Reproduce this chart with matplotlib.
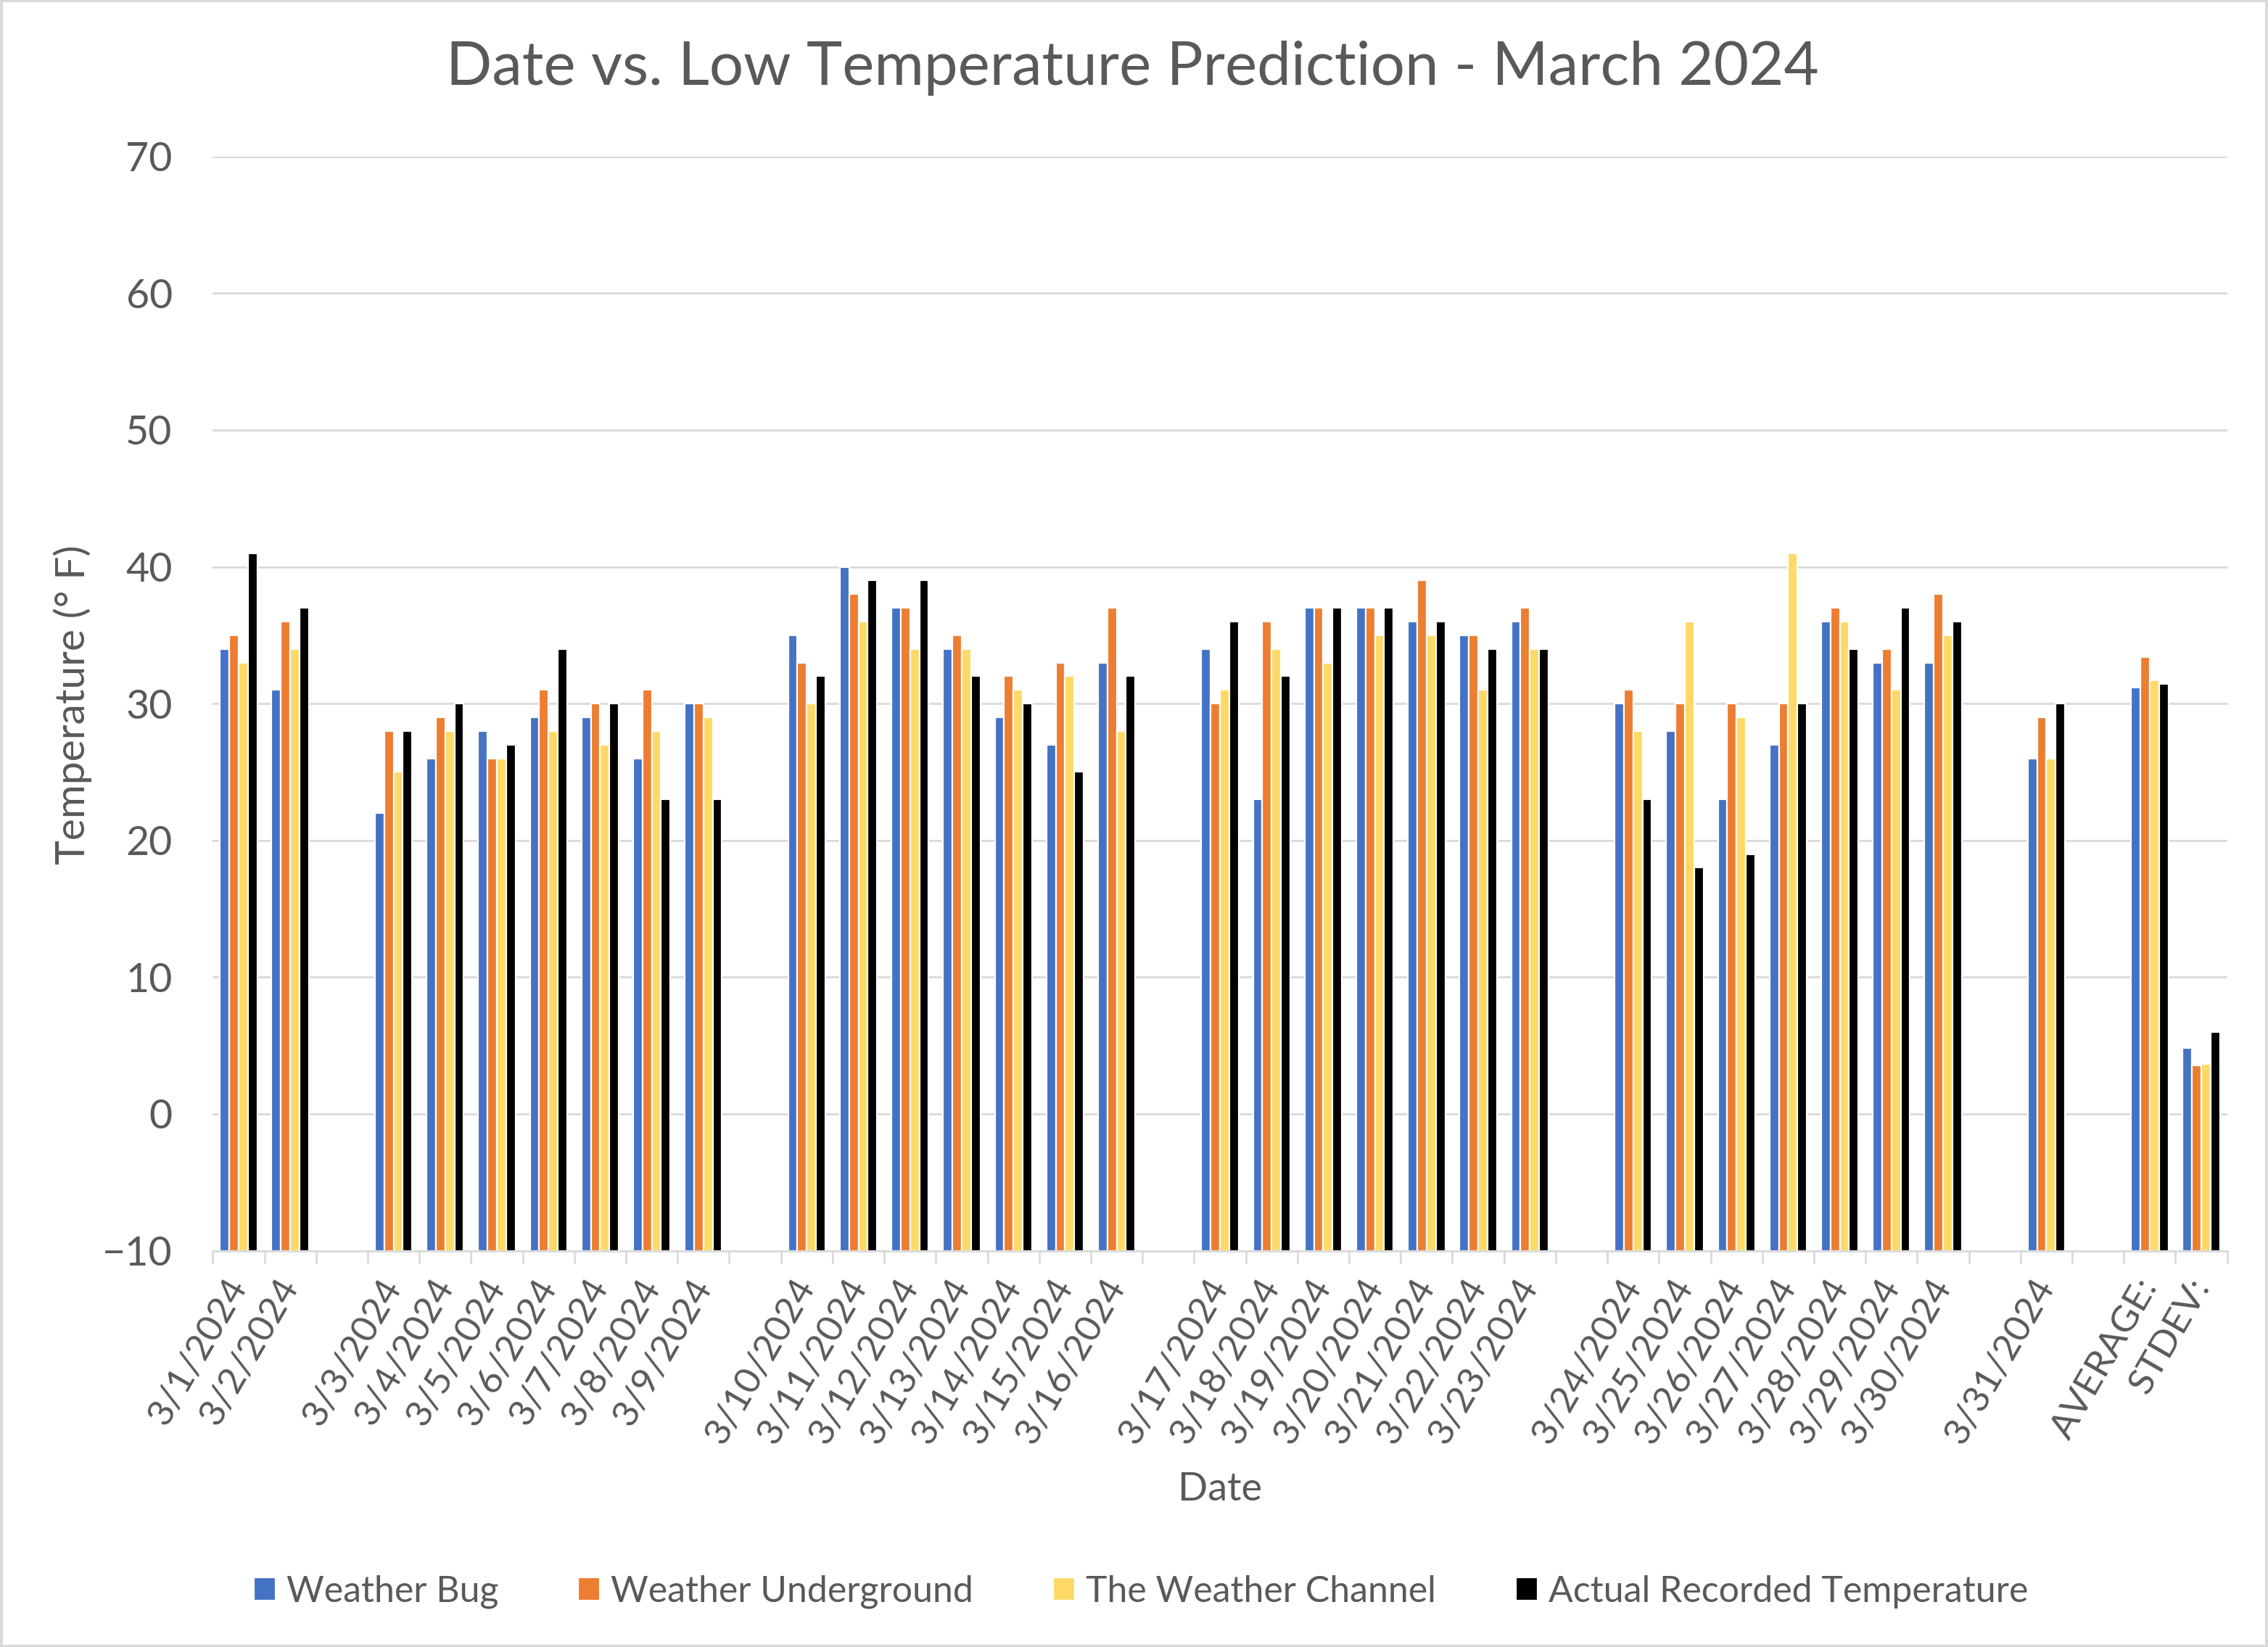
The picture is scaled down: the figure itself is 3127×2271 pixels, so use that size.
import numpy as np
import matplotlib
matplotlib.use("Agg")
import matplotlib.pyplot as plt
from matplotlib.patches import Rectangle

plt.rcParams['font.family'] = ['Lato', 'DejaVu Sans']

# categories (blank entries are the empty gaps between weeks)
dates = ['3/1/2024', '3/2/2024', '',
         '3/3/2024', '3/4/2024', '3/5/2024', '3/6/2024', '3/7/2024', '3/8/2024', '3/9/2024', '',
         '3/10/2024', '3/11/2024', '3/12/2024', '3/13/2024', '3/14/2024', '3/15/2024', '3/16/2024', '',
         '3/17/2024', '3/18/2024', '3/19/2024', '3/20/2024', '3/21/2024', '3/22/2024', '3/23/2024', '',
         '3/24/2024', '3/25/2024', '3/26/2024', '3/27/2024', '3/28/2024', '3/29/2024', '3/30/2024', '',
         '3/31/2024', '', 'AVERAGE:', 'STDEV:']

n = np.nan
weather_bug = [34, 31, n,
               22, 26, 28, 29, 29, 26, 30, n,
               35, 40, 37, 34, 29, 27, 33, n,
               34, 23, 37, 37, 36, 35, 36, n,
               30, 28, 23, 27, 36, 33, 33, n,
               26, n, 31.2, 4.8]
weather_underground = [35, 36, n,
                       28, 29, 26, 31, 30, 31, 30, n,
                       33, 38, 37, 35, 32, 33, 37, n,
                       30, 36, 37, 37, 39, 35, 37, n,
                       31, 30, 30, 30, 37, 34, 38, n,
                       29, n, 33.4, 3.55]
weather_channel = [33, 34, n,
                   25, 28, 26, 28, 27, 28, 29, n,
                   30, 36, 34, 34, 31, 32, 28, n,
                   31, 34, 33, 35, 35, 31, 34, n,
                   28, 36, 29, 41, 36, 31, 35, n,
                   26, n, 31.7, 3.65]
actual = [41, 37, n,
          28, 30, 27, 34, 30, 23, 23, n,
          32, 39, 39, 32, 30, 25, 32, n,
          36, 32, 37, 37, 36, 34, 34, n,
          23, 18, 19, 30, 34, 37, 36, n,
          30, n, 31.45, 6.0]

series = ['Weather Bug', 'Weather Underground', 'The Weather Channel', 'Actual Recorded Temperature']
values = [weather_bug, weather_underground, weather_channel, actual]
colors = ['#4472C4', '#ED7D31', '#FFD966', '#000000']

text_col = '#595959'
grid_col = '#D9D9D9'

fig = plt.figure(figsize=(15.635, 11.355), dpi=200)
ax = fig.add_axes([0.0938, 0.2406, 0.8882, 0.6644])

x = np.arange(len(dates))
w = 0.18
base = -10
for i, (name, vals, c) in enumerate(zip(series, values, colors)):
    v = np.array(vals, dtype=float)
    ax.bar(x + (i - 1.5) * w, v - base, width=w, bottom=base, color=c,
           edgecolor='white', linewidth=0.8, label=name, zorder=3)

ax.set_xlim(-0.5, len(dates) - 0.5)
ax.set_ylim(-10, 70)
ax.set_yticks(np.arange(-10, 71, 10))
ax.yaxis.grid(True, color=grid_col, linewidth=1.0, zorder=0)
ax.tick_params(axis='y', length=0, pad=20, labelsize=20, labelcolor=text_col)

ax.set_xticks(x)
ax.set_xticklabels(dates, rotation=60, ha='right', va='center', rotation_mode='anchor')
ax.set_xticks(np.arange(-0.5, len(dates), 1), minor=True)
ax.tick_params(axis='x', which='major', length=0, pad=15, labelsize=18.5, labelcolor=text_col)
ax.tick_params(axis='x', which='minor', length=6, width=1.0, color=grid_col)

for s in ['top', 'right', 'left']:
    ax.spines[s].set_visible(False)
ax.spines['bottom'].set_color(grid_col)
ax.spines['bottom'].set_linewidth(1.0)
ax.spines['bottom'].set_zorder(4)

fig.text(0.4995, 0.9587, 'Date vs. Low Temperature Prediction - March 2024',
         ha='center', va='center', fontsize=30, color=text_col)
fig.text(0.538, 0.0957, 'Date', ha='center', va='center', fontsize=19.5, color=text_col)
fig.text(0.032, 0.572, 'Temperature (° F)', ha='center', va='center', rotation=90,
         fontsize=20.5, color=text_col)

leg = fig.legend(loc='center', bbox_to_anchor=(0.503, 0.0334), ncol=4, frameon=False,
                 fontsize=18, handlelength=0.6, handleheight=0.6, handletextpad=0.3,
                 columnspacing=2.2)
for t in leg.get_texts():
    t.set_color(text_col)

fig.patches.append(Rectangle((0.0005, 0.0005), 0.999, 0.999, transform=fig.transFigure,
                             fill=False, edgecolor=grid_col, linewidth=1.5))

fig.savefig('out.png', dpi=200)
